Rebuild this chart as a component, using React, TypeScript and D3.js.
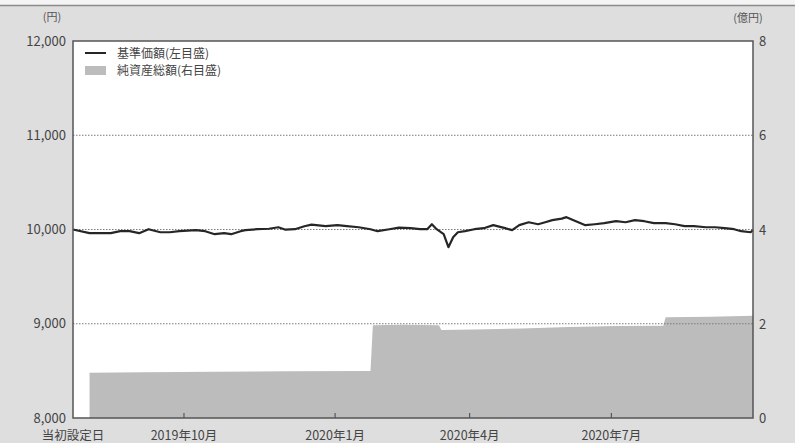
import React from "react";
import * as d3 from "d3";

// trading-day index from inception (0) to end (288)
const totalDays = 288;
const xTickIdx = [0, 47, 111, 168, 228];
const xTickLabels = ["当初設定日", "2019年10月", "2020年1月", "2020年4月", "2020年7月"];

const navIdx = [0, 7, 16, 20, 24, 28, 32, 37, 41, 45, 52, 56, 60, 64, 67, 71, 73, 78, 83, 87, 90, 94, 98, 101, 107, 112, 116, 121, 126, 129, 134, 138, 143, 147, 150, 152, 154, 157, 159, 161, 163, 166, 170, 174, 178, 183, 186, 189, 193, 197, 200, 203, 207, 209, 213, 217, 221, 225, 230, 234, 238, 242, 246, 251, 255, 259, 263, 268, 272, 276, 280, 283, 287, 288];
const navValues = [10000, 9961, 9961, 9982, 9982, 9961, 10003, 9971, 9971, 9982, 9993, 9982, 9950, 9961, 9950, 9982, 9993, 10003, 10008, 10024, 9998, 10003, 10035, 10051, 10035, 10046, 10035, 10024, 10003, 9982, 10003, 10019, 10014, 10003, 10003, 10056, 10003, 9950, 9812, 9918, 9971, 9982, 10003, 10014, 10046, 10014, 9993, 10046, 10077, 10056, 10077, 10099, 10115, 10131, 10088, 10046, 10056, 10067, 10088, 10077, 10099, 10088, 10067, 10067, 10056, 10035, 10035, 10024, 10024, 10014, 10003, 9982, 9971, 9993];

const assetIdx = [7, 30, 60, 90, 126, 127, 140, 155, 156, 170, 190, 210, 230, 250, 251, 270, 288];
const assetValues = [0.96, 0.97, 0.98, 0.99, 1.0, 1.97, 1.98, 1.97, 1.87, 1.88, 1.9, 1.93, 1.95, 1.96, 2.14, 2.15, 2.17];

const leftTicks = [8000, 9000, 10000, 11000, 12000];
const rightTicks = [0, 2, 4, 6, 8];
const gridTicks = [9000, 10000, 11000];
const legendLabels = ["基準価額(左目盛)", "純資産総額(右目盛)"];

const W = 795, H = 443;
const M = { left: 73, right: 753, top: 41, bottom: 418 };
const FONT = "'Noto Sans CJK JP', 'Noto Sans', sans-serif";

export default function App() {
  const x = d3.scaleLinear().domain([0, totalDays]).range([M.left, M.right]);
  const yL = d3.scaleLinear().domain([8000, 12000]).range([M.bottom, M.top]);
  const yR = d3.scaleLinear().domain([0, 8]).range([M.bottom, M.top]);

  const areaGen = d3
    .area<number>()
    .x((_, i) => x(assetIdx[i]))
    .y0(yR(0))
    .y1((d) => yR(d));
  const lineGen = d3
    .line<number>()
    .x((_, i) => x(navIdx[i]))
    .y((d) => yL(d));

  return (
    <svg width={W} height={H} style={{ position: "absolute", left: 0, top: 0 }}>
      <rect x={0} y={0} width={W} height={H} fill="#dedede" />
      <rect x={0} y={0} width={W} height={5} fill="#f4f4f4" />
      <line x1={0} x2={W} y1={5.5} y2={5.5} stroke="#8a8a8a" strokeWidth={1.5} />
      <rect x={M.left} y={M.top} width={M.right - M.left} height={M.bottom - M.top} fill="#ffffff" />
      <path d={areaGen(assetValues) || ""} fill="#bcbcbc" />
      {gridTicks.map((t) => (
        <line key={t} x1={M.left} x2={M.right} y1={yL(t)} y2={yL(t)} stroke="#7a7a7a" strokeWidth={1} strokeDasharray="1.5,1.5" />
      ))}
      <path d={lineGen(navValues) || ""} fill="none" stroke="#262626" strokeWidth={2.2} strokeLinejoin="round" />
      {xTickIdx.slice(1).map((t) => (
        <line key={t} x1={x(t)} x2={x(t)} y1={M.bottom} y2={M.bottom - 5} stroke="#444" strokeWidth={1} />
      ))}
      <rect x={M.left} y={M.top} width={M.right - M.left} height={M.bottom - M.top} fill="none" stroke="#555" strokeWidth={1.5} />
      {/* legend */}
      <line x1={85} x2={106} y1={53} y2={53} stroke="#262626" strokeWidth={2} />
      <rect x={85} y={66} width={21} height={9} fill="#bcbcbc" />
      <text x={117} y={57.5} fontFamily={FONT} fontSize={12} fill="#444">{legendLabels[0]}</text>
      <text x={117} y={74.5} fontFamily={FONT} fontSize={12} fill="#444">{legendLabels[1]}</text>
      {/* left axis */}
      <text x={52} y={21} fontFamily={FONT} fontSize={11} fill="#555" textAnchor="middle">(円)</text>
      {leftTicks.map((t) => (
        <text key={t} x={66} y={yL(t) + 4.5} fontFamily={FONT} fontSize={13} fill="#444" textAnchor="end">
          {d3.format(",")(t)}
        </text>
      ))}
      {/* right axis */}
      <text x={748} y={22} fontFamily={FONT} fontSize={11} fill="#555" textAnchor="middle">(億円)</text>
      {rightTicks.map((t) => (
        <text key={t} x={759} y={yR(t) + 5} fontFamily={FONT} fontSize={13} fill="#444" textAnchor="start">
          {t}
        </text>
      ))}
      {/* x labels */}
      {xTickIdx.map((t, i) => (
        <text key={t} x={x(t)} y={440} fontFamily={FONT} fontSize={12.5} fill="#444" textAnchor="middle">
          {xTickLabels[i]}
        </text>
      ))}
    </svg>
  );
}
